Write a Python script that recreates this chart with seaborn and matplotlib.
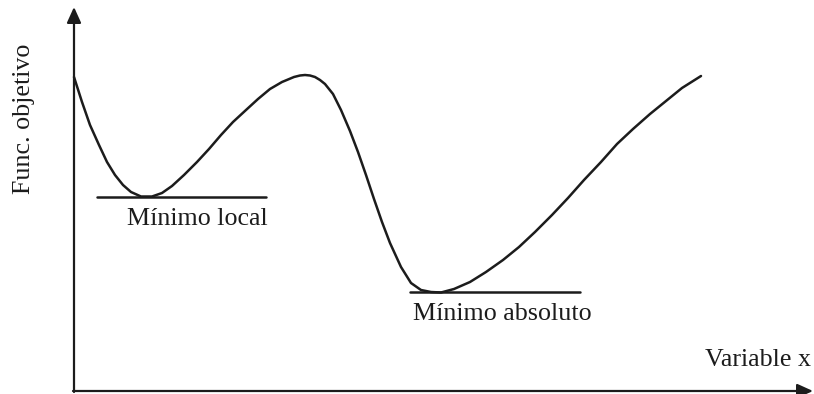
import matplotlib
matplotlib.use("Agg")
import matplotlib.pyplot as plt
import pandas as pd
import seaborn as sns

# Objective function traced along the variable x (drawing units, y grows upward)
curve_x = [74, 82, 90, 99, 107, 115, 123, 131, 141, 152, 162, 172, 184, 197,
           209, 221, 233, 246, 258, 270, 282, 294, 300, 305, 310, 315, 320,
           325, 333, 341, 350, 358, 366, 374, 382, 390, 401, 411, 421, 431,
           441, 454, 470, 486, 503, 519, 535, 552, 568, 584, 601, 617, 633,
           650, 666, 682, 701]
curve_y = [317, 292, 269, 249, 232, 219, 209, 202, 197.5, 197.5, 201, 208, 219, 232,
           245, 259, 272, 284, 295, 305, 312, 317, 318.5, 319, 318.5, 317, 314,
           310, 300, 284, 263, 242, 219, 195, 172, 151, 127, 111, 104, 102,
           101.5, 105, 112, 122, 134, 147, 162, 179, 196, 214, 232, 250, 265,
           280, 293, 306, 318]

# Horizontal reference lines marking the two minima
local_min_x = [97, 266]
local_min_y = [197, 197]
abs_min_x = [410, 580]
abs_min_y = [102, 102]

labels = ["Mínimo local", "Mínimo absoluto"]
x_label = "Variable x"
y_label = "Func. objetivo"

sns.set_theme(style="white")
plt.rcParams["font.family"] = ["Liberation Serif", "DejaVu Serif"]

ink = "#1c1c1c"
fig = plt.figure(figsize=(8.14, 3.94), dpi=100)
ax = fig.add_axes([0, 0, 1, 1])
ax.set_xlim(0, 814)
ax.set_ylim(0, 394)
ax.axis("off")

df = pd.DataFrame({"x": curve_x, "y": curve_y})
sns.lineplot(data=df, x="x", y="y", sort=False, estimator=None,
             color=ink, lw=1.8, ax=ax)
ax.lines[-1].set_solid_joinstyle("round")
sns.lineplot(x=local_min_x, y=local_min_y, color=ink, lw=1.8, ax=ax)
sns.lineplot(x=abs_min_x, y=abs_min_y, color=ink, lw=1.8, ax=ax)

# Axes drawn as arrows
arrow = dict(arrowstyle="-|>,head_length=0.95,head_width=0.43",
             lw=1.6, color=ink, mutation_scale=10, shrinkA=0, shrinkB=0)
ax.annotate("", xy=(74, 387), xytext=(74, 2), arrowprops=arrow)
ax.annotate("", xy=(813, 3), xytext=(73, 3), arrowprops=arrow)

fs = 18.7
ax.text(127, 394 - 225, labels[0], fontsize=fs, color=ink, va="baseline", ha="left")
ax.text(413, 394 - 320, labels[1], fontsize=fs, color=ink, va="baseline", ha="left")
ax.text(811, 394 - 366, x_label, fontsize=fs, color=ink, va="baseline", ha="right")
ax.text(24, 394 - 119, y_label, fontsize=fs, color=ink, rotation=90,
        va="center", ha="center")

fig.savefig("out.png", dpi=100)
